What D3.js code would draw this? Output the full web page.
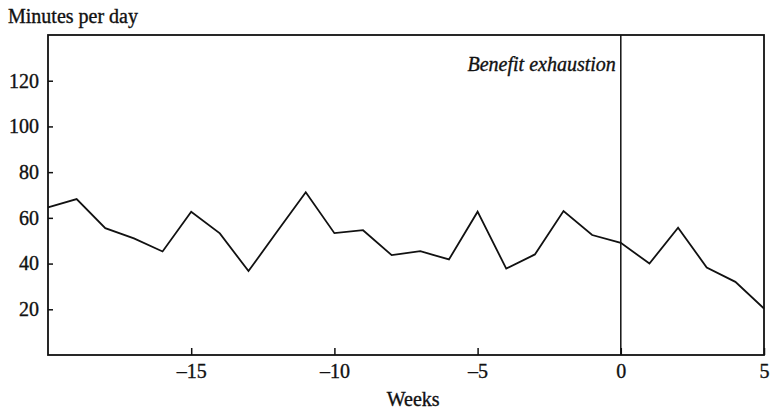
<!DOCTYPE html>
<html>
<head>
<meta charset="utf-8">
<script src="https://cdn.jsdelivr.net/npm/d3@7"></script>
<style>
  body { margin: 0; background: #fff; }
  svg text { font-family: "Liberation Serif", "DejaVu Serif", serif; fill: #111; stroke: #111; stroke-width: 0.35px; }
</style>
</head>
<body>
<div id="chart"></div>
<script>
// weeks relative to benefit exhaustion
const weeks = d3.range(-20, 6);
// minutes per day
const minutes = [64.6, 68.2, 55.5, 51.0, 45.3, 62.7, 53.2, 36.7, 54.0, 71.2,
                 53.3, 54.6, 43.7, 45.4, 41.8, 62.7, 37.8, 44.0, 63.0, 52.5,
                 49.1, 40.0, 55.7, 38.3, 32.0, 20.3];
const xTicks = [-15, -10, -5, 0, 5];
const yTicks = [20, 40, 60, 80, 100, 120];
const markerWeek = 0;
const markerLabel = 'Benefit exhaustion';

const width = 770, height = 410;
const margin = { top: 35, right: 6, bottom: 55, left: 48 };

const svg = d3.select('#chart').append('svg')
  .attr('width', width)
  .attr('height', height);

const x = d3.scaleLinear().domain([-20, 5]).range([margin.left, width - margin.right]);
const y = d3.scaleLinear().domain([0, 140]).range([height - margin.bottom, margin.top]);

// y axis, ticks pointing inward
svg.append('g')
  .attr('transform', `translate(${margin.left},0)`)
  .call(d3.axisLeft(y).tickValues(yTicks).tickSizeInner(-5).tickSizeOuter(0).tickPadding(9))
  .call(g => g.select('.domain').remove())
  .call(g => g.selectAll('line').attr('stroke', '#111').attr('stroke-width', 1.5))
  .call(g => g.selectAll('text').attr('font-size', 20).attr('font-family', null).attr('fill', null));

// x axis
svg.append('g')
  .attr('transform', `translate(0,${height - margin.bottom})`)
  .call(d3.axisBottom(x).tickValues(xTicks).tickSizeInner(-7).tickSizeOuter(0).tickPadding(9)
    .tickFormat(d => d < 0 ? '\u2013' + Math.abs(d) : d))
  .call(g => g.select('.domain').remove())
  .call(g => g.selectAll('line').attr('stroke', '#111').attr('stroke-width', 1.5))
  .call(g => g.selectAll('text').attr('font-size', 20).attr('font-family', null).attr('fill', null));

// frame
svg.append('rect')
  .attr('x', margin.left)
  .attr('y', margin.top)
  .attr('width', width - margin.left - margin.right)
  .attr('height', height - margin.top - margin.bottom)
  .attr('fill', 'none')
  .attr('stroke', '#111')
  .attr('stroke-width', 1.8);

// benefit exhaustion marker
svg.append('line')
  .attr('x1', x(markerWeek)).attr('x2', x(markerWeek))
  .attr('y1', margin.top).attr('y2', height - margin.bottom)
  .attr('stroke', '#111')
  .attr('stroke-width', 1.5);

svg.append('text')
  .attr('x', x(markerWeek) - 5)
  .attr('y', 71)
  .attr('text-anchor', 'end')
  .attr('font-size', 20)
  .attr('font-style', 'italic')
  .text(markerLabel);

// series
const line = d3.line()
  .x((d, i) => x(weeks[i]))
  .y(d => y(d));

svg.append('path')
  .datum(minutes)
  .attr('fill', 'none')
  .attr('stroke', '#111')
  .attr('stroke-width', 1.8)
  .attr('stroke-linejoin', 'miter')
  .attr('d', line);

// labels
svg.append('text')
  .attr('x', 8)
  .attr('y', 23)
  .attr('font-size', 20)
  .text('Minutes per day');

svg.append('text')
  .attr('x', x(-7.25))
  .attr('y', 406)
  .attr('text-anchor', 'middle')
  .attr('font-size', 20)
  .text('Weeks');
</script>
</body>
</html>
